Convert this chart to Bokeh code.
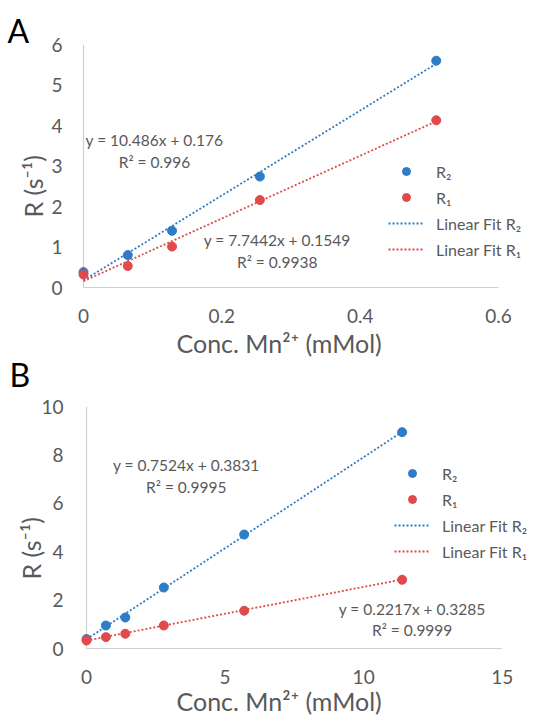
from bokeh.plotting import figure
from bokeh.layouts import column
from bokeh.models import Range1d, FixedTicker, Legend, LegendItem, Title
from bokeh.embed import file_html
from bokeh.resources import INLINE
from bokeh.core.properties import value

FONT = "Lato"
GRAY = "#595959"
BLUE = "#2E7BC6"
RED = "#E04A4A"
AXIS_COLOR = "#D0D0D0"

# ---------------- Panel A data ----------------
a_conc = [0, 0.064, 0.128, 0.255, 0.51]
a_r2 = [0.38, 0.80, 1.40, 2.74, 5.60]
a_r1 = [0.32, 0.53, 1.01, 2.16, 4.13]
a_fit_r2 = (10.486, 0.176)
a_fit_r1 = (7.7442, 0.1549)
a_eq_r2 = ["y = 10.486x + 0.176", "R² = 0.996"]
a_eq_r1 = ["y = 7.7442x + 0.1549", "R² = 0.9938"]
a_x_ticks = [0, 0.2, 0.4, 0.6]
a_x_tick_labels = ["0", "0.2", "0.4", "0.6"]
a_y_ticks = [0, 1, 2, 3, 4, 5, 6]
a_y_tick_labels = ["0", "1", "2", "3", "4", "5", "6"]

# ---------------- Panel B data ----------------
b_conc = [0, 0.70, 1.40, 2.79, 5.69, 11.39]
b_r2 = [0.39, 0.95, 1.28, 2.52, 4.71, 8.94]
b_r1 = [0.33, 0.47, 0.61, 0.95, 1.56, 2.84]
b_fit_r2 = (0.7524, 0.3831)
b_fit_r1 = (0.2217, 0.3285)
b_eq_r2 = ["y = 0.7524x + 0.3831", "R² = 0.9995"]
b_eq_r1 = ["y = 0.2217x + 0.3285", "R² = 0.9999"]
b_x_ticks = [0, 5, 10, 15]
b_x_tick_labels = ["0", "5", "10", "15"]
b_y_ticks = [0, 2, 4, 6, 8, 10]
b_y_tick_labels = ["0", "2", "4", "6", "8", "10"]

legend_labels = ["R₂", "R₁", "Linear Fit R₂", "Linear Fit R₁"]
x_title = "Conc. Mn²⁺ (mMol)"
y_title = "R (s⁻¹)"

FRAME_LEFT = 73   # page px (Bokeh page has no body margin)
FRAME_RIGHT = 552


def title(text, size, color, align, offset, standoff, valign):
    return Title(text=text, align=align, offset=offset, standoff=standoff,
                 vertical_align=valign, text_font=FONT, text_font_size=size,
                 text_font_style="normal", text_color=color)


def make_panel(conc, r2, r1, fit2, fit1, eq2, eq1,
               xticks, xlabels, yticks, ylabels, g):
    xmax, ymax = xticks[-1], yticks[-1]
    padb = g["padb"]
    sx = (g["xmax_px"] - g["x0_px"]) / xmax
    sy = (g["y0_px"] - g["ymax_px"]) / ymax
    padl = g["x0_px"] - FRAME_LEFT
    padr = FRAME_RIGHT - g["xmax_px"]
    fw = FRAME_RIGHT - FRAME_LEFT
    fh = round(g["y0_px"] + padb - g["ymax_px"])

    p = figure(frame_width=fw, frame_height=fh,
               x_range=Range1d(-padl / sx, xmax + padr / sx),
               y_range=Range1d(-padb / sy, ymax),
               min_border_left=FRAME_LEFT, min_border_right=0,
               min_border_top=g["top"], min_border_bottom=g["bottom"],
               output_backend="svg", toolbar_location=None)
    p.outline_line_color = None
    p.grid.visible = False

    for ax in (p.xaxis[0], p.yaxis[0]):
        ax.axis_line_color = None
        ax.major_tick_line_color = None
        ax.minor_tick_line_color = None
        ax.major_tick_out = 0
        ax.major_tick_in = 0
        ax.minor_tick_out = 0
        ax.major_label_text_font = FONT
        ax.major_label_text_font_size = "19px"
        ax.major_label_text_color = GRAY
    p.xaxis.ticker = FixedTicker(ticks=xticks)
    p.xaxis.major_label_overrides = {t: l for t, l in zip(xticks, xlabels)}
    p.yaxis.ticker = FixedTicker(ticks=yticks)
    p.yaxis.major_label_overrides = {t: l for t, l in zip(yticks, ylabels)}
    p.xaxis.major_label_standoff = g["xs1"]
    p.yaxis.major_label_standoff = g["ys1"]

    # axis titles, placed like the reference's (not centred on the frame)
    p.add_layout(title(x_title, "25px", GRAY, "left", g["xt_off"], g["xt_so"], "top"), "below")
    p.add_layout(title(y_title, "25px", GRAY, "left", g["yt_off"], g["yt_so"], "bottom"), "left")

    # axis lines (from the axis extents)
    p.segment(x0=[0, 0], y0=[0, 0], x1=[xmax, 0], y1=[0, ymax],
              line_color=AXIS_COLOR, line_width=1.2)

    fx = [0, max(conc)]
    l2 = p.line(fx, [fit2[0] * x + fit2[1] for x in fx], line_color=BLUE,
                line_width=1.8, line_dash="2 2")
    l1 = p.line(fx, [fit1[0] * x + fit1[1] for x in fx], line_color=RED,
                line_width=1.8, line_dash="2 2")
    s2 = p.scatter(conc, r2, size=9, fill_color=BLUE, line_color=BLUE)
    s1 = p.scatter(conc, r1, size=9, fill_color=RED, line_color=RED)

    for eq, pos in ((eq2, g["eq2"]), (eq1, g["eq1"])):
        p.text(x=[pos[0], pos[0]], y=[pos[1], pos[2]], text=eq,
               text_font=value(FONT), text_font_size="15.5px", text_color=GRAY,
               text_align="center", text_baseline="middle")

    legend = Legend(items=[LegendItem(label=legend_labels[0], renderers=[s2]),
                           LegendItem(label=legend_labels[1], renderers=[s1]),
                           LegendItem(label=legend_labels[2], renderers=[l2]),
                           LegendItem(label=legend_labels[3], renderers=[l1])],
                    location=g["leg"], glyph_width=36, glyph_height=20,
                    label_height=20, spacing=6, padding=0, margin=0,
                    label_standoff=12, border_line_alpha=0,
                    background_fill_alpha=0,
                    label_text_font=FONT, label_text_font_size="16px",
                    label_text_color=GRAY)
    p.add_layout(legend)
    return p


pA = make_panel(a_conc, a_r2, a_r1, a_fit_r2, a_fit_r1, a_eq_r2, a_eq_r1,
                a_x_ticks, a_x_tick_labels, a_y_ticks, a_y_tick_labels,
                dict(x0_px=83, xmax_px=498, y0_px=287, ymax_px=44, padb=3,
                     top=44, bottom=104, xs1=18, ys1=11,
                     xt_off=103, xt_so=4, yt_off=73, yt_so=2,
                     eq2=(0.1026, 3.63, 3.09), eq1=(0.28, 1.18, 0.64),
                     leg=(315, 31)))
pA.add_layout(title("A", "32px", "black", "left", -66, -10, "bottom"), "above")
pA.add_layout(title("B", "32px", "black", "left", -64, -14, "top"), "below")

pB = make_panel(b_conc, b_r2, b_r1, b_fit_r2, b_fit_r1, b_eq_r2, b_eq_r1,
                b_x_ticks, b_x_tick_labels, b_y_ticks, b_y_tick_labels,
                dict(x0_px=86, xmax_px=501.7, y0_px=648, ymax_px=406, padb=1,
                     top=12, bottom=74, xs1=20, ys1=10,
                     xt_off=103, xt_so=-2, yt_off=70, yt_so=-14,
                     eq2=(3.6, 7.57, 6.68), eq1=(11.75, 1.62, 0.76),
                     leg=(321, 88)))

layout = column(pA, pB)
open("out.html", "w").write(file_html(layout, INLINE))
